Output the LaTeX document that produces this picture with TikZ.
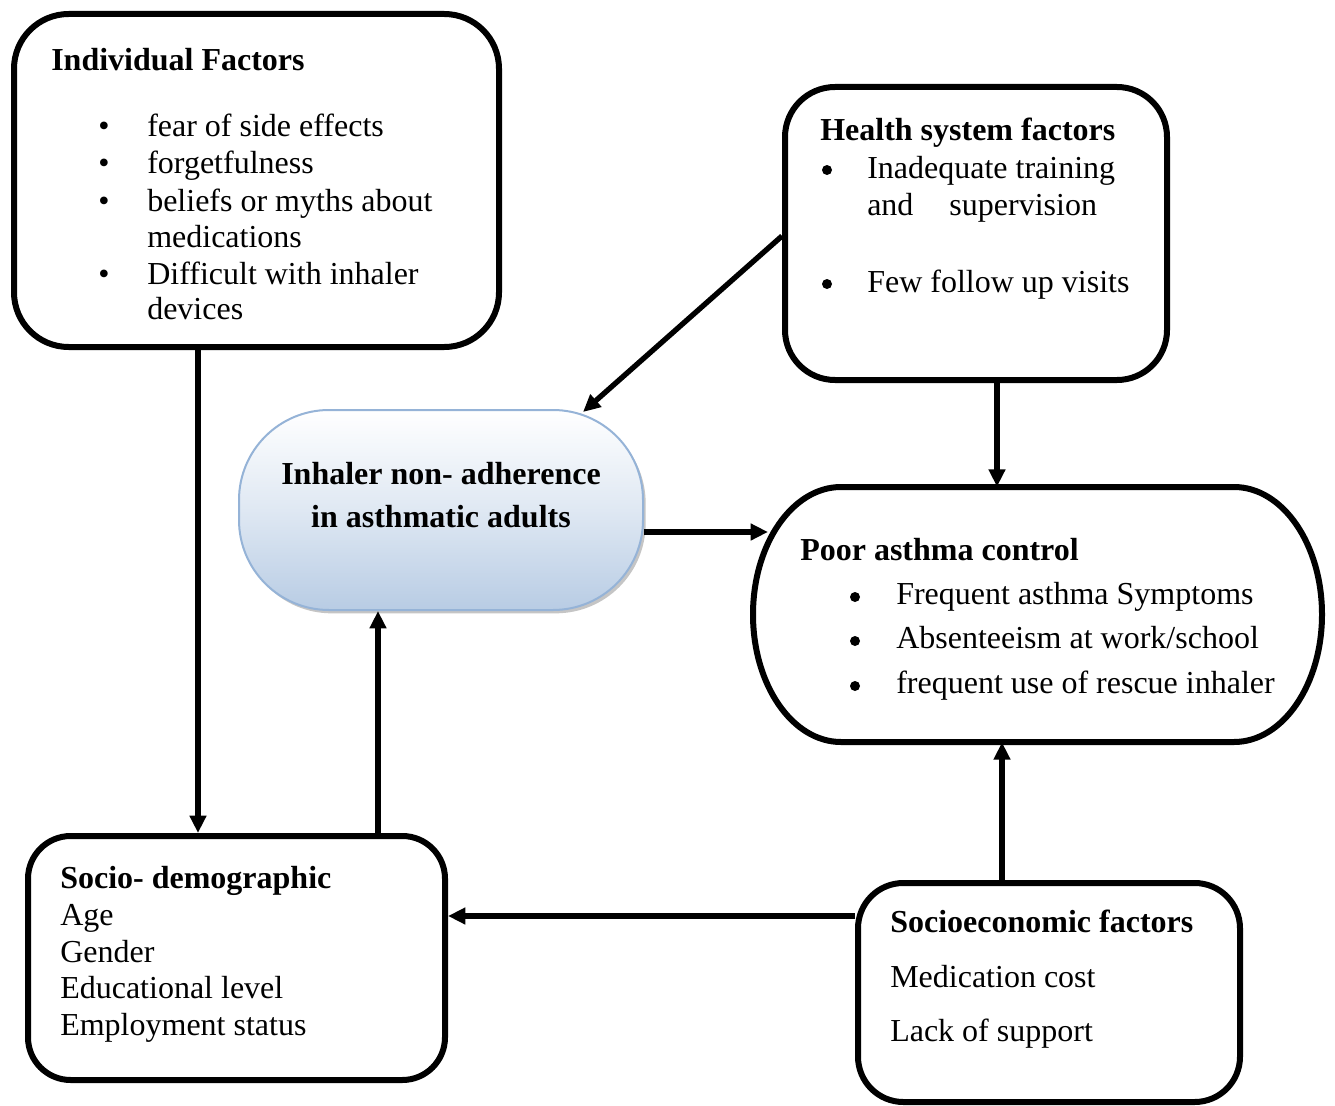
\documentclass[tikz,border=0pt]{standalone}
\usepackage{fontspec}
\setmainfont{Liberation Serif}
\usetikzlibrary{arrows.meta,shadows}
\definecolor{inhfill}{RGB}{184,204,228}
\definecolor{inhline}{RGB}{149,179,215}
\begin{document}
\begin{tikzpicture}[x=0.75pt,y=-0.75pt,
  box/.style={draw=black, line width=4.5pt, inner sep=0pt, fill=white},
  txt/.style={inner sep=0pt, anchor=base west, font=\fontsize{24pt}{28pt}\selectfont},
  hd/.style={inner sep=0pt, anchor=base west, font=\fontsize{24pt}{28pt}\selectfont\bfseries},
  bul/.style={inner sep=0pt, anchor=base, font=\fontsize{24pt}{28pt}\selectfont},
  dotbul/.style={circle, fill=black, inner sep=0pt, minimum size=7.5pt},
  arr/.style={line width=4pt, -{Triangle[length=13pt,width=12pt]}}]
\useasboundingbox (0,0) rectangle (1335,1106);
\fill[white] (0,0) rectangle (1335,1106);

% boxes
\node[box, minimum width=363.75pt, minimum height=249.75pt, rounded corners=41pt] (indiv) at (256.5,180.5) {};
\node[box, minimum width=286.5pt, minimum height=219.75pt, rounded corners=37.5pt] (health) at (976,233.5) {};
\node[inner sep=0pt, minimum width=426.75pt, minimum height=191.25pt] (poor) at (1037.5,614.5) {};
\draw[line width=4.5pt, fill=white] (841,487) -- (1234,487)
  arc[start angle=-90, end angle=90, x radius=88, y radius=127.5] -- (841,742)
  arc[start angle=90, end angle=270, x radius=88, y radius=127.5] -- cycle;
\node[box, minimum width=312.75pt, minimum height=183pt, rounded corners=32pt] (sd) at (236.5,958) {};
\node[box, minimum width=286.5pt, minimum height=164.25pt, rounded corners=34pt] (se) at (1049,992.5) {};
\node[draw=inhline, line width=1.5pt, inner sep=0pt, minimum width=303pt, minimum height=150pt,
  rounded corners=67.5pt, top color=white, bottom color=inhfill, middle color=inhfill!45,
  drop shadow={shadow xshift=2pt, shadow yshift=-2.5pt, fill=black!45}] (inh) at (441,510) {};

% Individual factors
\node[hd] (i0) at (51,70) {Individual Factors};
\node[bul] (ib1) at (104,137) {•};
\node[txt] (i1) at (147,137) {fear of side effects};
\node[bul] (ib2) at (104,173) {•};
\node[txt] (i2) at (147,173) {forgetfulness};
\node[bul] (ib3) at (104,211) {•};
\node[txt] (i3) at (147,211) {beliefs or myths about};
\node[txt] (i4) at (147,247) {medications};
\node[bul] (ib5) at (104,284) {•};
\node[txt] (i5) at (147,284) {Difficult with inhaler};
\node[txt] (i6) at (147,319) {devices};

% Health system factors
\node[hd] (h0) at (820,140) {Health system factors};
\node[dotbul] (hb1) at (827,170) {};
\node[txt] (h1) at (867,178) {Inadequate training};
\node[txt] (h2) at (867,215) {and\hspace{27pt}supervision};
\node[dotbul] (hb3) at (827,284) {};
\node[txt] (h3) at (867,292) {Few follow up visits};

% Inhaler non-adherence
\node[inner sep=0pt, anchor=base, font=\fontsize{24pt}{28pt}\selectfont\bfseries] (n1) at (441,484) {Inhaler non- adherence};
\node[inner sep=0pt, anchor=base, font=\fontsize{24pt}{28pt}\selectfont\bfseries] (n2) at (441,527) {in asthmatic adults};

% Poor asthma control
\node[hd] (p0) at (800,560) {Poor asthma control};
\node[dotbul] (pb1) at (855,597) {};
\node[txt] (p1) at (896,604) {Frequent asthma Symptoms};
\node[dotbul] (pb2) at (855,641) {};
\node[txt] (p2) at (896,648) {Absenteeism at work/school};
\node[dotbul] (pb3) at (855,686) {};
\node[txt] (p3) at (896,693) {frequent use of rescue inhaler};

% Socio-demographic
\node[hd] (s0) at (60,888) {Socio- demographic};
\node[txt] (s1) at (60,925) {Age};
\node[txt] (s2) at (60,962) {Gender};
\node[txt] (s3) at (60,998) {Educational level};
\node[txt] (s4) at (60,1035) {Employment status};

% Socioeconomic
\node[hd] (e0) at (890,932) {Socioeconomic factors};
\node[txt] (e1) at (890,987) {Medication cost};
\node[txt] (e2) at (890,1041) {Lack of support};

% connector helpers
\coordinate (c1) at (198,0);
\coordinate (c2) at (378,0);
\coordinate (c3s) at (0,236);
\coordinate (c3e) at (583,412);
\coordinate (c4) at (997,0);
\coordinate (c5) at (0,532);
\coordinate (c5e) at (768,532);
\coordinate (c6) at (1002,0);
\coordinate (c7) at (0,916);

% connectors
\draw[arr] (indiv.south -| c1) -- (sd.north -| c1);
\draw[arr] (sd.north -| c2) -- (inh.south -| c2);
\draw[arr] (health.west |- c3s) -- (c3e);
\draw[arr] (health.south -| c4) -- (poor.north -| c4);
\draw[arr] (inh.east |- c5) -- (c5e);
\draw[arr] (se.north -| c6) -- (poor.south -| c6);
\draw[arr] (se.west |- c7) -- (sd.east |- c7);
\end{tikzpicture}
\end{document}
